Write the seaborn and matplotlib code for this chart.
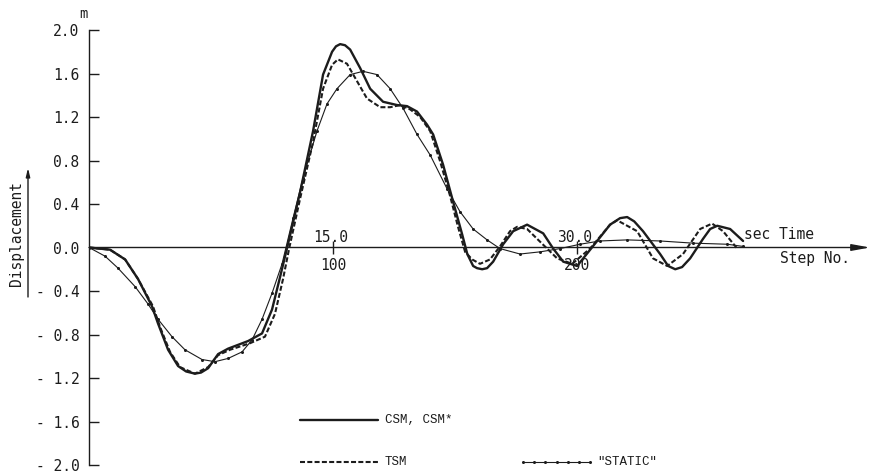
import numpy as np
import pandas as pd
import matplotlib
matplotlib.use("Agg")
import matplotlib.pyplot as plt
import seaborn as sns
from matplotlib.lines import Line2D

# step number (dt = 0.15 s) and displacement in m
csm_step = [0, 8.6, 14.8, 20.1, 25.8, 28.3, 32.4, 36.5, 39.8, 43.4, 45.9, 48.8, 52.9, 57.0,
            65.2, 70.9, 75.0, 78.3, 81.1, 86.5, 91.8, 95.9, 99.6, 101.2, 102.9, 104.9, 107.0,
            111.1, 115.2, 120.5, 126.2, 130.3, 134.4, 138.5, 141.0, 145.1, 149.2, 152.9,
            155.0, 157.4, 159.0, 161.1, 163.1, 165.6, 169.7, 173.8, 179.5, 186.1, 190.2,
            194.3, 200.0, 208.2, 213.5, 217.6, 220.5, 223.4, 227.0, 234.0, 237.3, 240.2,
            243.0, 246.3, 251.6, 254.5, 257.4, 262.7, 268.0]
csm_disp = [0, -0.02, -0.11, -0.29, -0.54, -0.70, -0.94, -1.09, -1.14, -1.16, -1.15, -1.11,
            -0.98, -0.93, -0.86, -0.79, -0.57, -0.27, -0.01, 0.51, 1.07, 1.59, 1.80, 1.85,
            1.87, 1.86, 1.82, 1.65, 1.46, 1.34, 1.31, 1.30, 1.25, 1.13, 1.04, 0.76, 0.42,
            0.12, -0.06, -0.17, -0.19, -0.20, -0.19, -0.13, 0.03, 0.15, 0.21, 0.13, -0.01,
            -0.13, -0.17, 0.06, 0.21, 0.27, 0.28, 0.24, 0.15, -0.06, -0.17, -0.20, -0.18,
            -0.10, 0.08, 0.17, 0.20, 0.17, 0.06]

tsm_step = [0, 8.6, 14.8, 20.1, 26.2, 29.1, 33.2, 37.3, 43.4, 48.8, 52.9, 57.8, 66.0, 72.1,
            76.2, 79.5, 82.0, 86.5, 91.8, 95.9, 99.6, 102.0, 105.7, 109.8, 113.9, 119.3,
            123.4, 127.5, 131.6, 135.7, 139.8, 143.9, 148.0, 151.2, 154.1, 157.0, 160.2,
            164.3, 168.4, 172.5, 175.4, 179.5, 183.6, 191.8, 198.0, 205.3, 213.5, 216.4,
            224.6, 231.1, 236.9, 243.4, 250.4, 255.3, 259.8, 265.6]
tsm_disp = [0, -0.02, -0.11, -0.29, -0.54, -0.73, -0.96, -1.10, -1.16, -1.10, -0.99, -0.94,
            -0.88, -0.82, -0.61, -0.29, -0.01, 0.45, 0.97, 1.46, 1.68, 1.73, 1.69, 1.53,
            1.37, 1.29, 1.29, 1.31, 1.27, 1.20, 1.07, 0.79, 0.47, 0.19, -0.04, -0.11,
            -0.15, -0.11, 0.01, 0.15, 0.19, 0.17, 0.08, -0.10, -0.15, -0.01, 0.21, 0.25,
            0.15, -0.10, -0.17, -0.06, 0.17, 0.22, 0.15, -0.01]

static_step = [0, 6.6, 11.9, 18.9, 24.2, 28.3, 34.0, 39.3, 46.3, 51.6, 57.0, 62.7, 66.8,
               70.9, 75.0, 79.1, 83.6, 87.7, 93.4, 97.5, 101.6, 107.0, 112.3, 118.0, 123.4,
               128.7, 134.4, 139.8, 146.7, 152.0, 157.4, 163.1, 168.4, 176.6, 184.8, 193.0,
               201.2, 209.4, 220.5, 234.0, 247.5, 261.5, 268.0]
static_disp = [0, -0.08, -0.19, -0.36, -0.52, -0.66, -0.82, -0.94, -1.03, -1.05, -1.02,
               -0.96, -0.85, -0.66, -0.42, -0.15, 0.27, 0.64, 1.07, 1.32, 1.46, 1.59, 1.62,
               1.59, 1.46, 1.28, 1.04, 0.85, 0.54, 0.33, 0.17, 0.07, -0.01, -0.06, -0.04,
               -0.01, 0.03, 0.06, 0.07, 0.06, 0.04, 0.03, 0.01]

y_ticks = [2.0, 1.6, 1.2, 0.8, 0.4, 0.0, -0.4, -0.8, -1.2, -1.6, -2.0]
y_labels = ["2.0", "1.6", "1.2", "0.8", "0.4", "0.0", "- 0.4", "- 0.8", "- 1.2", "- 1.6", "- 2.0"]
step_ticks = [100, 200]
time_labels = ["15.0", "30.0"]
step_labels = ["100", "200"]

sns.set_style("white")
plt.rcParams["font.family"] = ["DejaVu Sans Mono"]
ink = "#1c1c1c"

W, H = 874, 475
fig = plt.figure(figsize=(W / 100, H / 100), dpi=100)
ax = fig.add_axes([89 / W, 1 - 465 / H, (870 - 89) / W, (465 - 30) / H])

sns.lineplot(x=static_step, y=static_disp, ax=ax, color=ink, lw=0.8, marker="o",
             markersize=2.2, markeredgewidth=0, estimator=None, sort=False)
sns.lineplot(x=tsm_step, y=tsm_disp, ax=ax, color=ink, lw=1.5,
             linestyle=(0, (2.4, 1.1)), estimator=None, sort=False)
sns.lineplot(x=csm_step, y=csm_disp, ax=ax, color=ink, lw=1.7, estimator=None, sort=False)

ax.set_xlim(0, 320)
ax.set_ylim(-2, 2)
for side in ["top", "right", "bottom"]:
    ax.spines[side].set_visible(False)
ax.spines["left"].set_color(ink)
ax.spines["left"].set_linewidth(1.0)
ax.set_xticks([])
ax.set_yticks(y_ticks)
ax.set_yticklabels(y_labels, fontsize=10.5, color=ink)
ax.tick_params(axis="y", left=True, direction="in", length=7, width=1, pad=7, colors=ink)
ax.set_xlabel("")
ax.set_ylabel("")

# time / step axis with arrow
ax.annotate("", xy=(320, 0), xytext=(0, 0), annotation_clip=False,
            arrowprops=dict(arrowstyle="-|>,head_length=1.1,head_width=0.2",
                            lw=1.0, color=ink, shrinkA=0, shrinkB=0))
ax.vlines(step_ticks, -0.06, 0.06, color=ink, lw=1.0)
for s, tl, sl in zip(step_ticks, time_labels, step_labels):
    ax.text(s - 1, 0.025, tl, ha="center", va="bottom", fontsize=10.5, color=ink)
    ax.text(s, -0.1, sl, ha="center", va="top", fontsize=10.5, color=ink)
ax.text(268.5, 0.05, "sec Time", ha="left", va="bottom", fontsize=10.5, color=ink)
ax.text(283, -0.03, "Step No.", ha="left", va="top", fontsize=10.5, color=ink)

# unit and y label with arrow
fig.text(83 / W, 1 - 14 / H, "m", ha="center", va="center", fontsize=10, color=ink)
fig.text(17 / W, 1 - 233 / H, "Displacement", rotation=90, ha="center", va="center",
         fontsize=10.5, color=ink)
fig.add_artist(plt.Annotation("", xy=(28 / W, 1 - 168 / H), xytext=(28 / W, 1 - 297 / H),
                              xycoords="figure fraction", textcoords="figure fraction",
                              arrowprops=dict(arrowstyle="-|>,head_length=0.5,head_width=0.12",
                                              lw=1.0, color=ink, shrinkA=0, shrinkB=0)))

# legend drawn in figure pixels
def fx(px):
    return px / W

def fy(py):
    return 1 - py / H

fig.add_artist(Line2D([fx(300), fx(378)], [fy(420), fy(420)], color=ink, lw=1.7))
fig.text(fx(385), fy(420), "CSM, CSM*", ha="left", va="center", fontsize=9,
         family="Liberation Mono", color=ink)
fig.add_artist(Line2D([fx(300), fx(378)], [fy(462), fy(462)], color=ink, lw=1.5,
                      linestyle=(0, (2.4, 1.1))))
fig.text(fx(385), fy(462), "TSM", ha="left", va="center", fontsize=9,
         family="Liberation Mono", color=ink)
leg_x = np.linspace(fx(523), fx(590), 7)
fig.add_artist(Line2D(leg_x, [fy(462)] * len(leg_x), color=ink, lw=0.8,
                      marker="o", markersize=2.2, markeredgewidth=0))
fig.text(fx(597), fy(462), '"STATIC"', ha="left", va="center", fontsize=9,
         family="Liberation Mono", color=ink)

fig.savefig("out.png", dpi=100, facecolor="white")
